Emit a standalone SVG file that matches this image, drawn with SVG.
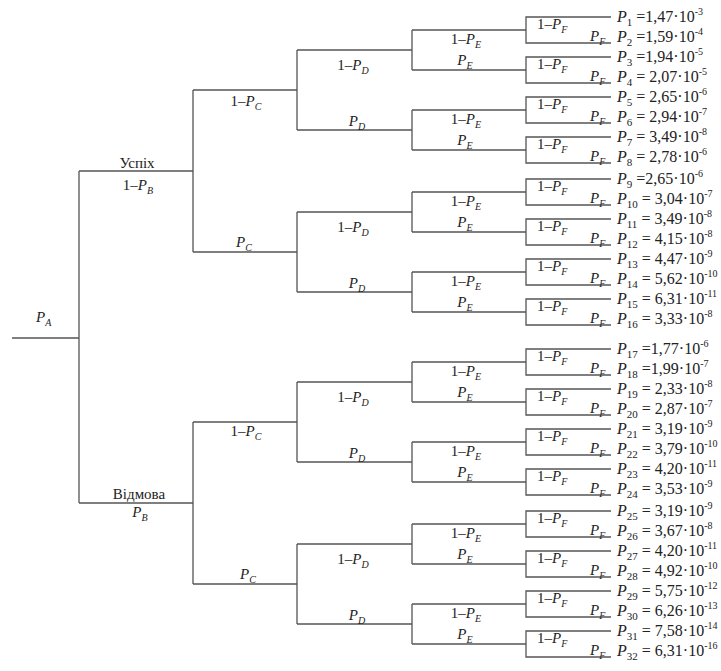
<svg xmlns="http://www.w3.org/2000/svg" width="721" height="671" viewBox="0 0 721 671" font-family="'Liberation Serif', 'DejaVu Serif', serif">
<style>
.ln{fill:none;stroke:#555;stroke-width:1.3}
text{font-family:'Liberation Serif','DejaVu Serif',serif;fill:#222;font-size:15px}
.m{text-anchor:middle}
.lf{font-size:16px}
.i{font-style:italic}
.s{font-size:10px}
.s2{font-size:11px}
</style>
<rect width="721" height="671" fill="#fff"/>
<g id="connectors" class="ln">
<path d="M12 338H79M79 171V503M79 171H193M79 503H193"/>
<path d="M193 90V252M193 422V584M193 90H297M193 252H297M193 422H297M193 584H297"/>
<path d="M297 50V130M297 212V292M297 382V462M297 544V624"/>
<path d="M297 50H412M297 130H412M297 212H412M297 292H412M297 382H412M297 462H412M297 544H412M297 624H412"/>
<path d="M412 30V70M412 110V150M412 192V232M412 272V312M412 362V402M412 442V482M412 524V564M412 604V644"/>
<path d="M412 30H526M412 70H526M412 110H526M412 150H526M412 192H526M412 232H526M412 272H526M412 312H526M412 362H526M412 402H526M412 442H526M412 482H526M412 524H526M412 564H526M412 604H526M412 644H526"/>
<path d="M611 17H526V43H611M611 57H526V83H611M611 97H526V123H611M611 137H526V163H611M611 179H526V205H611M611 219H526V245H611M611 259H526V285H611M611 299H526V325H611M611 349H526V375H611M611 389H526V415H611M611 429H526V455H611M611 469H526V495H611M611 511H526V537H611M611 551H526V577H611M611 591H526V617H611M611 631H526V657H611"/>
</g>
<g id="root"><text x="36" y="322"><tspan class="i">P</tspan><tspan class="i s" dy="4">A</tspan></text></g>
<g id="b-success"><text class="m" x="137" y="168">Успіх</text><text class="m" x="138" y="190">1–<tspan class="i">P</tspan><tspan class="i s" dy="4">B</tspan></text></g>
<g id="b-failure"><text class="m" x="139" y="499">Відмова</text><text class="m" x="140" y="517"><tspan class="i">P</tspan><tspan class="i s" dy="4">B</tspan></text></g>
<g id="c-labels">
<text class="m" x="246" y="106">1–<tspan class="i">P</tspan><tspan class="i s" dy="4">C</tspan></text>
<text class="m" x="244" y="247"><tspan class="i">P</tspan><tspan class="i s" dy="4">C</tspan></text>
<text class="m" x="246" y="436">1–<tspan class="i">P</tspan><tspan class="i s" dy="4">C</tspan></text>
<text class="m" x="248" y="579"><tspan class="i">P</tspan><tspan class="i s" dy="4">C</tspan></text>
</g>
<g id="d-labels">
<text class="m" x="353" y="69.5">1–<tspan class="i">P</tspan><tspan class="i s" dy="4">D</tspan></text>
<text class="m" x="357" y="126"><tspan class="i">P</tspan><tspan class="i s" dy="4">D</tspan></text>
<text class="m" x="353" y="231.5">1–<tspan class="i">P</tspan><tspan class="i s" dy="4">D</tspan></text>
<text class="m" x="357" y="288"><tspan class="i">P</tspan><tspan class="i s" dy="4">D</tspan></text>
<text class="m" x="353" y="401.5">1–<tspan class="i">P</tspan><tspan class="i s" dy="4">D</tspan></text>
<text class="m" x="357" y="458"><tspan class="i">P</tspan><tspan class="i s" dy="4">D</tspan></text>
<text class="m" x="353" y="563.5">1–<tspan class="i">P</tspan><tspan class="i s" dy="4">D</tspan></text>
<text class="m" x="357" y="620"><tspan class="i">P</tspan><tspan class="i s" dy="4">D</tspan></text>
</g>
<g id="e-labels">
<text class="m" x="466" y="43.5">1–<tspan class="i">P</tspan><tspan class="i s" dy="4">E</tspan></text>
<text class="m" x="465" y="65"><tspan class="i">P</tspan><tspan class="i s" dy="4">E</tspan></text>
<text class="m" x="466" y="123.5">1–<tspan class="i">P</tspan><tspan class="i s" dy="4">E</tspan></text>
<text class="m" x="465" y="145"><tspan class="i">P</tspan><tspan class="i s" dy="4">E</tspan></text>
<text class="m" x="466" y="205.5">1–<tspan class="i">P</tspan><tspan class="i s" dy="4">E</tspan></text>
<text class="m" x="465" y="227"><tspan class="i">P</tspan><tspan class="i s" dy="4">E</tspan></text>
<text class="m" x="466" y="285.5">1–<tspan class="i">P</tspan><tspan class="i s" dy="4">E</tspan></text>
<text class="m" x="465" y="307"><tspan class="i">P</tspan><tspan class="i s" dy="4">E</tspan></text>
<text class="m" x="466" y="375.5">1–<tspan class="i">P</tspan><tspan class="i s" dy="4">E</tspan></text>
<text class="m" x="465" y="397"><tspan class="i">P</tspan><tspan class="i s" dy="4">E</tspan></text>
<text class="m" x="466" y="455.5">1–<tspan class="i">P</tspan><tspan class="i s" dy="4">E</tspan></text>
<text class="m" x="465" y="477"><tspan class="i">P</tspan><tspan class="i s" dy="4">E</tspan></text>
<text class="m" x="466" y="537.5">1–<tspan class="i">P</tspan><tspan class="i s" dy="4">E</tspan></text>
<text class="m" x="465" y="559"><tspan class="i">P</tspan><tspan class="i s" dy="4">E</tspan></text>
<text class="m" x="466" y="617.5">1–<tspan class="i">P</tspan><tspan class="i s" dy="4">E</tspan></text>
<text class="m" x="465" y="639"><tspan class="i">P</tspan><tspan class="i s" dy="4">E</tspan></text>
</g>
<g id="f-labels">
<text x="537" y="29">1–<tspan class="i">P</tspan><tspan class="i s" dy="4">F</tspan></text><text x="590" y="41"><tspan class="i">P</tspan><tspan class="i s" dy="4">F</tspan></text>
<text x="537" y="69">1–<tspan class="i">P</tspan><tspan class="i s" dy="4">F</tspan></text><text x="590" y="81"><tspan class="i">P</tspan><tspan class="i s" dy="4">F</tspan></text>
<text x="537" y="109">1–<tspan class="i">P</tspan><tspan class="i s" dy="4">F</tspan></text><text x="590" y="121"><tspan class="i">P</tspan><tspan class="i s" dy="4">F</tspan></text>
<text x="537" y="149">1–<tspan class="i">P</tspan><tspan class="i s" dy="4">F</tspan></text><text x="590" y="161"><tspan class="i">P</tspan><tspan class="i s" dy="4">F</tspan></text>
<text x="537" y="191">1–<tspan class="i">P</tspan><tspan class="i s" dy="4">F</tspan></text><text x="590" y="203"><tspan class="i">P</tspan><tspan class="i s" dy="4">F</tspan></text>
<text x="537" y="231">1–<tspan class="i">P</tspan><tspan class="i s" dy="4">F</tspan></text><text x="590" y="243"><tspan class="i">P</tspan><tspan class="i s" dy="4">F</tspan></text>
<text x="537" y="271">1–<tspan class="i">P</tspan><tspan class="i s" dy="4">F</tspan></text><text x="590" y="283"><tspan class="i">P</tspan><tspan class="i s" dy="4">F</tspan></text>
<text x="537" y="311">1–<tspan class="i">P</tspan><tspan class="i s" dy="4">F</tspan></text><text x="590" y="323"><tspan class="i">P</tspan><tspan class="i s" dy="4">F</tspan></text>
<text x="537" y="361">1–<tspan class="i">P</tspan><tspan class="i s" dy="4">F</tspan></text><text x="590" y="373"><tspan class="i">P</tspan><tspan class="i s" dy="4">F</tspan></text>
<text x="537" y="401">1–<tspan class="i">P</tspan><tspan class="i s" dy="4">F</tspan></text><text x="590" y="413"><tspan class="i">P</tspan><tspan class="i s" dy="4">F</tspan></text>
<text x="537" y="441">1–<tspan class="i">P</tspan><tspan class="i s" dy="4">F</tspan></text><text x="590" y="453"><tspan class="i">P</tspan><tspan class="i s" dy="4">F</tspan></text>
<text x="537" y="481">1–<tspan class="i">P</tspan><tspan class="i s" dy="4">F</tspan></text><text x="590" y="493"><tspan class="i">P</tspan><tspan class="i s" dy="4">F</tspan></text>
<text x="537" y="523">1–<tspan class="i">P</tspan><tspan class="i s" dy="4">F</tspan></text><text x="590" y="535"><tspan class="i">P</tspan><tspan class="i s" dy="4">F</tspan></text>
<text x="537" y="563">1–<tspan class="i">P</tspan><tspan class="i s" dy="4">F</tspan></text><text x="590" y="575"><tspan class="i">P</tspan><tspan class="i s" dy="4">F</tspan></text>
<text x="537" y="603">1–<tspan class="i">P</tspan><tspan class="i s" dy="4">F</tspan></text><text x="590" y="615"><tspan class="i">P</tspan><tspan class="i s" dy="4">F</tspan></text>
<text x="537" y="643">1–<tspan class="i">P</tspan><tspan class="i s" dy="4">F</tspan></text><text x="590" y="655"><tspan class="i">P</tspan><tspan class="i s" dy="4">F</tspan></text>
</g>
<g id="leaves">
<text class="lf" x="617" y="22"><tspan class="i">P</tspan><tspan class="s2" dy="4">1</tspan><tspan dy="-4"> =1,47·10</tspan><tspan class="s" dy="-7">-3</tspan></text>
<text class="lf" x="617" y="42"><tspan class="i">P</tspan><tspan class="s2" dy="4">2</tspan><tspan dy="-4"> =1,59·10</tspan><tspan class="s" dy="-7">-4</tspan></text>
<text class="lf" x="617" y="62"><tspan class="i">P</tspan><tspan class="s2" dy="4">3</tspan><tspan dy="-4"> =1,94·10</tspan><tspan class="s" dy="-7">-5</tspan></text>
<text class="lf" x="617" y="82"><tspan class="i">P</tspan><tspan class="s2" dy="4">4</tspan><tspan dy="-4"> = 2,07·10</tspan><tspan class="s" dy="-7">-5</tspan></text>
<text class="lf" x="617" y="102"><tspan class="i">P</tspan><tspan class="s2" dy="4">5</tspan><tspan dy="-4"> = 2,65·10</tspan><tspan class="s" dy="-7">-6</tspan></text>
<text class="lf" x="617" y="122"><tspan class="i">P</tspan><tspan class="s2" dy="4">6</tspan><tspan dy="-4"> = 2,94·10</tspan><tspan class="s" dy="-7">-7</tspan></text>
<text class="lf" x="617" y="142"><tspan class="i">P</tspan><tspan class="s2" dy="4">7</tspan><tspan dy="-4"> = 3,49·10</tspan><tspan class="s" dy="-7">-8</tspan></text>
<text class="lf" x="617" y="162"><tspan class="i">P</tspan><tspan class="s2" dy="4">8</tspan><tspan dy="-4"> = 2,78·10</tspan><tspan class="s" dy="-7">-6</tspan></text>
<text class="lf" x="617" y="184"><tspan class="i">P</tspan><tspan class="s2" dy="4">9</tspan><tspan dy="-4"> =2,65·10</tspan><tspan class="s" dy="-7">-6</tspan></text>
<text class="lf" x="617" y="204"><tspan class="i">P</tspan><tspan class="s2" dy="4">10</tspan><tspan dy="-4"> = 3,04·10</tspan><tspan class="s" dy="-7">-7</tspan></text>
<text class="lf" x="617" y="224"><tspan class="i">P</tspan><tspan class="s2" dy="4">11</tspan><tspan dy="-4"> = 3,49·10</tspan><tspan class="s" dy="-7">-8</tspan></text>
<text class="lf" x="617" y="244"><tspan class="i">P</tspan><tspan class="s2" dy="4">12</tspan><tspan dy="-4"> = 4,15·10</tspan><tspan class="s" dy="-7">-8</tspan></text>
<text class="lf" x="617" y="264"><tspan class="i">P</tspan><tspan class="s2" dy="4">13</tspan><tspan dy="-4"> = 4,47·10</tspan><tspan class="s" dy="-7">-9</tspan></text>
<text class="lf" x="617" y="284"><tspan class="i">P</tspan><tspan class="s2" dy="4">14</tspan><tspan dy="-4"> = 5,62·10</tspan><tspan class="s" dy="-7">-10</tspan></text>
<text class="lf" x="617" y="304"><tspan class="i">P</tspan><tspan class="s2" dy="4">15</tspan><tspan dy="-4"> = 6,31·10</tspan><tspan class="s" dy="-7">-11</tspan></text>
<text class="lf" x="617" y="324"><tspan class="i">P</tspan><tspan class="s2" dy="4">16</tspan><tspan dy="-4"> = 3,33·10</tspan><tspan class="s" dy="-7">-8</tspan></text>
<text class="lf" x="617" y="354"><tspan class="i">P</tspan><tspan class="s2" dy="4">17</tspan><tspan dy="-4"> =1,77·10</tspan><tspan class="s" dy="-7">-6</tspan></text>
<text class="lf" x="617" y="374"><tspan class="i">P</tspan><tspan class="s2" dy="4">18</tspan><tspan dy="-4"> =1,99·10</tspan><tspan class="s" dy="-7">-7</tspan></text>
<text class="lf" x="617" y="394"><tspan class="i">P</tspan><tspan class="s2" dy="4">19</tspan><tspan dy="-4"> = 2,33·10</tspan><tspan class="s" dy="-7">-8</tspan></text>
<text class="lf" x="617" y="414"><tspan class="i">P</tspan><tspan class="s2" dy="4">20</tspan><tspan dy="-4"> = 2,87·10</tspan><tspan class="s" dy="-7">-7</tspan></text>
<text class="lf" x="617" y="434"><tspan class="i">P</tspan><tspan class="s2" dy="4">21</tspan><tspan dy="-4"> = 3,19·10</tspan><tspan class="s" dy="-7">-9</tspan></text>
<text class="lf" x="617" y="454"><tspan class="i">P</tspan><tspan class="s2" dy="4">22</tspan><tspan dy="-4"> = 3,79·10</tspan><tspan class="s" dy="-7">-10</tspan></text>
<text class="lf" x="617" y="474"><tspan class="i">P</tspan><tspan class="s2" dy="4">23</tspan><tspan dy="-4"> = 4,20·10</tspan><tspan class="s" dy="-7">-11</tspan></text>
<text class="lf" x="617" y="494"><tspan class="i">P</tspan><tspan class="s2" dy="4">24</tspan><tspan dy="-4"> = 3,53·10</tspan><tspan class="s" dy="-7">-9</tspan></text>
<text class="lf" x="617" y="516"><tspan class="i">P</tspan><tspan class="s2" dy="4">25</tspan><tspan dy="-4"> = 3,19·10</tspan><tspan class="s" dy="-7">-9</tspan></text>
<text class="lf" x="617" y="536"><tspan class="i">P</tspan><tspan class="s2" dy="4">26</tspan><tspan dy="-4"> = 3,67·10</tspan><tspan class="s" dy="-7">-8</tspan></text>
<text class="lf" x="617" y="556"><tspan class="i">P</tspan><tspan class="s2" dy="4">27</tspan><tspan dy="-4"> = 4,20·10</tspan><tspan class="s" dy="-7">-11</tspan></text>
<text class="lf" x="617" y="576"><tspan class="i">P</tspan><tspan class="s2" dy="4">28</tspan><tspan dy="-4"> = 4,92·10</tspan><tspan class="s" dy="-7">-10</tspan></text>
<text class="lf" x="617" y="596"><tspan class="i">P</tspan><tspan class="s2" dy="4">29</tspan><tspan dy="-4"> = 5,75·10</tspan><tspan class="s" dy="-7">-12</tspan></text>
<text class="lf" x="617" y="616"><tspan class="i">P</tspan><tspan class="s2" dy="4">30</tspan><tspan dy="-4"> = 6,26·10</tspan><tspan class="s" dy="-7">-13</tspan></text>
<text class="lf" x="617" y="636"><tspan class="i">P</tspan><tspan class="s2" dy="4">31</tspan><tspan dy="-4"> = 7,58·10</tspan><tspan class="s" dy="-7">-14</tspan></text>
<text class="lf" x="617" y="656"><tspan class="i">P</tspan><tspan class="s2" dy="4">32</tspan><tspan dy="-4"> = 6,31·10</tspan><tspan class="s" dy="-7">-16</tspan></text>
</g>
</svg>
